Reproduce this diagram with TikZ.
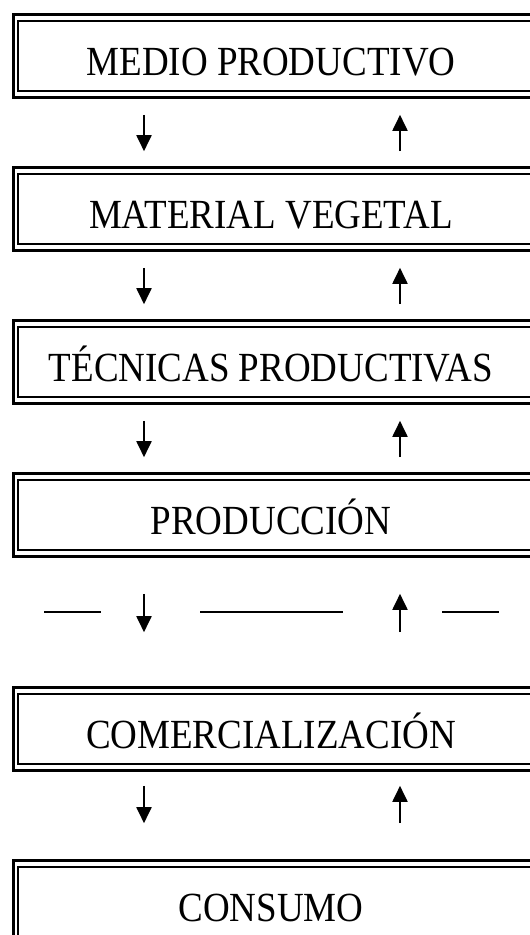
\documentclass[tikz,border=0pt]{standalone}
\usepackage{graphicx}
\usepackage{fontspec}
\setmainfont{Liberation Serif}
\usetikzlibrary{arrows.meta,calc}

\begin{document}
\begin{tikzpicture}
  [x=1pt,y=-1pt,
   caja/.style={draw,line width=2.6pt,minimum width=526.7pt,minimum height=83pt,inner sep=0pt}, % outer thick frame
   rotulo/.style={font=\fontsize{37}{40}\selectfont,inner sep=0pt,anchor=base},
   flecha/.style={line width=1.9pt,-{Triangle[length=16pt,width=15pt]}},
   raya/.style={line width=2pt}]
  \clip (0,0) rectangle (530,935);

  % boxes, each with a thin inner frame
  \foreach \n/\y/\t in {mp/56/MEDIO PRODUCTIVO, mv/209/MATERIAL VEGETAL, tp/362/TÉCNICAS PRODUCTIVAS,
                        pr/515/PRODUCCIÓN, co/729/COMERCIALIZACIÓN, cs/902/CONSUMO}{
    \node[caja] (\n) at (276.65,\y) {};
    \draw[line width=1.8pt] ([xshift=5.8pt,yshift=-7.5pt]\n.north west) rectangle ([xshift=-5.8pt,yshift=7.5pt]\n.south east);
    \node[rotulo] (\n t) at (271,\y+19) {\scalebox{1}[1.12]{\t}};
  }

  \coordinate (dn) at (144,0);
  \coordinate (up) at (400,0);

  \foreach \a/\b in {mp/mv, mv/tp, tp/pr}{
    \draw[flecha] ($(\a.south -| dn)+(0,16)$) -- ($(\b.north -| dn)+(0,-15)$);
    \draw[flecha] ($(\b.north -| up)+(0,-15)$) -- ($(\a.south -| up)+(0,16)$);
  }

  \draw[flecha] ($(pr.south -| dn)+(0,36)$) -- ($(co.north -| dn)+(0,-54)$);
  \draw[flecha] ($(co.north -| up)+(0,-54)$) -- ($(pr.south -| up)+(0,36)$);
  \draw[raya] (44,612) -- (101,612);
  \draw[raya] (200,612) -- (343,612);
  \draw[raya] (442,612) -- (499,612);

  \draw[flecha] ($(co.south -| dn)+(0,14)$) -- ($(cs.north -| dn)+(0,-36)$);
  \draw[flecha] ($(cs.north -| up)+(0,-36)$) -- ($(co.south -| up)+(0,14)$);
\end{tikzpicture}
\end{document}
